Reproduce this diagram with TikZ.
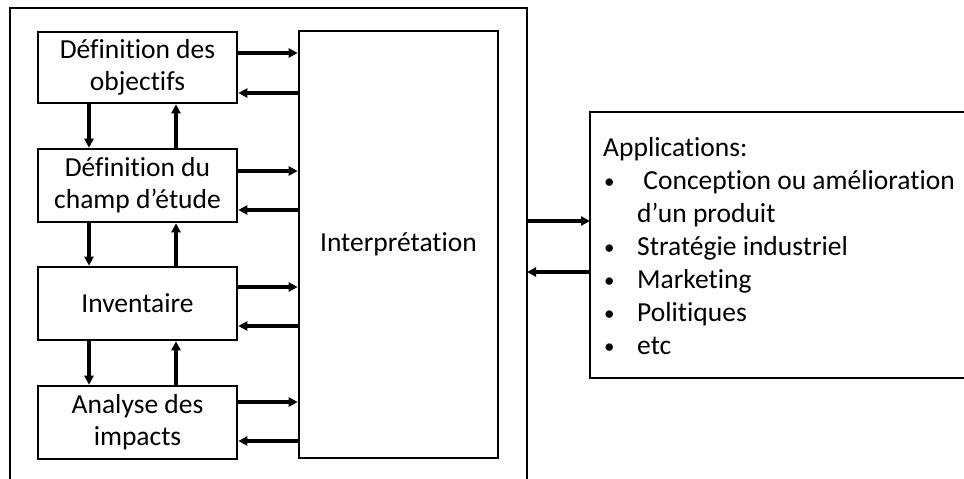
\documentclass[tikz,border=0pt]{standalone}
\usepackage{fontspec}
\setmainfont{Carlito}[Ligatures={NoCommon}]
\usetikzlibrary{arrows.meta}
\newcommand{\blt}{\makebox[34pt][l]{\hspace*{1pt}\raisebox{1pt}{\fontsize{21}{21}\selectfont •}}}
\begin{document}
\begin{tikzpicture}[x=1pt,y=-1pt,
  box/.style={draw,line width=2.6pt,minimum width=199pt,inner sep=0pt,align=center,font=\fontsize{27.5}{32}\selectfont},
  arr/.style={line width=3.2pt,-{Triangle[length=9pt,width=9pt]}},
  frame/.style={line width=2.6pt}]
\useasboundingbox (0,0) rectangle (964,479);
% outer frame
\draw[frame] (10,479) -- (10,8) -- (527,8) -- (527,479);
\coordinate (fr) at (527,244);
% left boxes
\node[box,minimum height=71pt] (b1) at (137.5,67.5) {Définition des\\objectifs};
\node[box,minimum height=73pt] (b2) at (137.5,185.5) {Définition du\\champ d’étude};
\node[box,minimum height=73pt] (b3) at (137.5,303.5) {Inventaire};
\node[box,minimum height=73pt] (b4) at (137.5,422.5) {Analyse des\\impacts};
% interpretation
\node[box,minimum width=199pt,minimum height=427pt] (it) at (398.5,244.5) {Interprétation};
% vertical arrows
\draw[arr] (b1.south -| 89,0) -- (b2.north -| 89,0);
\draw[arr] (b2.north -| 176,0) -- (b1.south -| 176,0);
\draw[arr] (b2.south -| 89,0) -- (b3.north -| 89,0);
\draw[arr] (b3.north -| 176,0) -- (b2.south -| 176,0);
\draw[arr] (b3.south -| 89,0) -- (b4.north -| 89,0);
\draw[arr] (b4.north -| 176,0) -- (b3.south -| 176,0);
% horizontal arrows
\draw[arr] (b1.east |- 0,53) -- (it.west |- 0,53);
\draw[arr] (it.west |- 0,93) -- (b1.east |- 0,93);
\draw[arr] (b2.east |- 0,171) -- (it.west |- 0,171);
\draw[arr] (it.west |- 0,210) -- (b2.east |- 0,210);
\draw[arr] (b3.east |- 0,287) -- (it.west |- 0,287);
\draw[arr] (it.west |- 0,326) -- (b3.east |- 0,326);
\draw[arr] (b4.east |- 0,402) -- (it.west |- 0,402);
\draw[arr] (it.west |- 0,441) -- (b4.east |- 0,441);
% applications box
\draw[frame] (964,112) -- (590,112) -- (590,378) -- (964,378);
\coordinate (ap) at (590,245);
\node[anchor=north west,inner sep=0pt,align=left,font=\fontsize{27.5}{33}\selectfont] (apt) at (603,137)
{Applications:\\
\blt\ Conception ou amélioration\\
\hspace*{34pt}d’un produit\\
\blt Stratégie industriel\\
\blt Marketing\\
\blt Politiques\\
\blt etc};
\draw[arr] (fr |- 0,221) -- (ap |- 0,221);
\draw[arr] (ap |- 0,272) -- (fr |- 0,272);
\end{tikzpicture}
\end{document}
